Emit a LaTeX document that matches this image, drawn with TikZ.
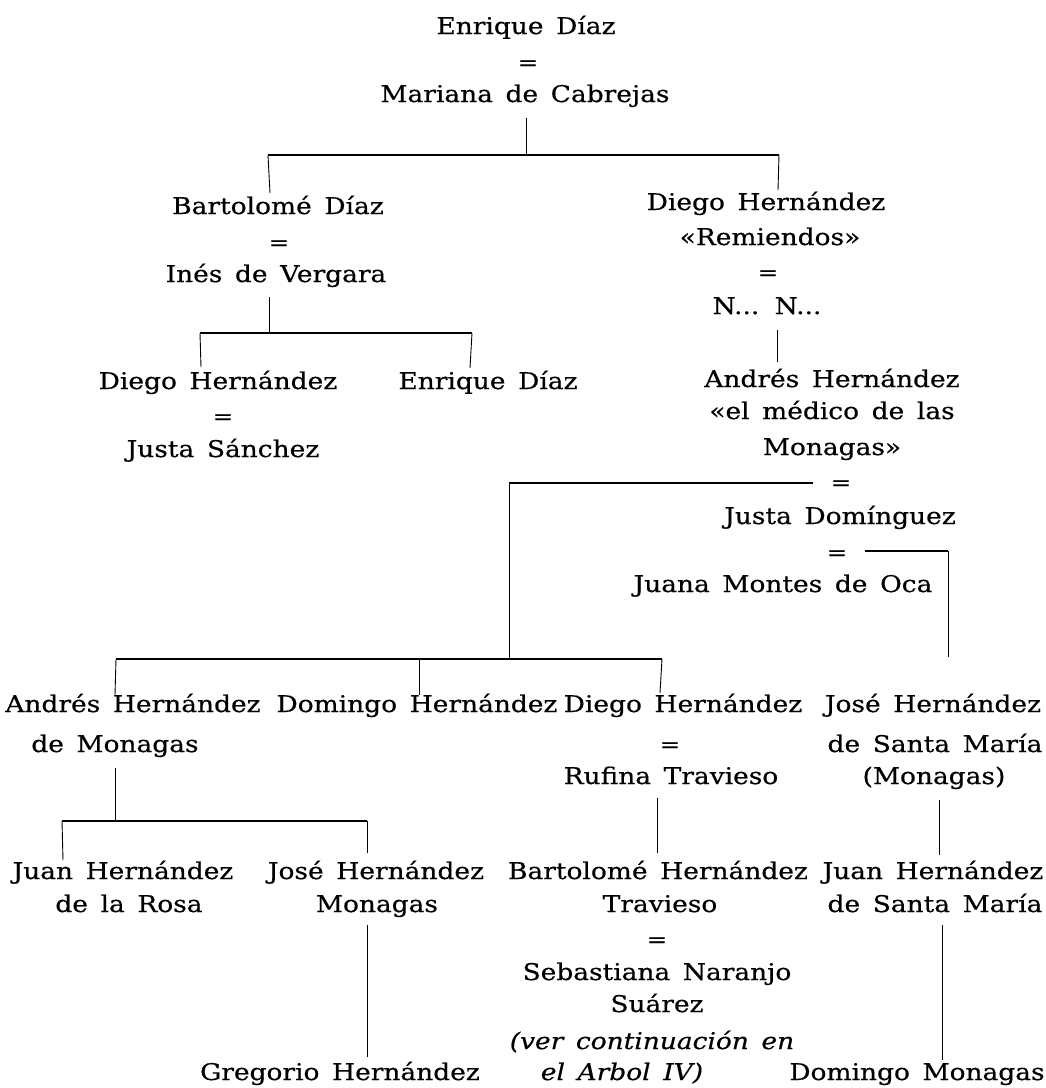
\documentclass[tikz,border=0pt]{standalone}
\usepackage{fontspec}
\setmainfont{DejaVu Serif}[FakeStretch=1.15, WordSpace=1.5, FakeBold=0.5]
\begin{document}
\begin{tikzpicture}[x=1pt,y=-1pt,
  nm/.style={anchor=base,inner sep=0pt,font=\fontsize{23}{33}\selectfont},
  it/.style={nm,font=\fontsize{23}{33}\selectfont\itshape},
  eq/.style={anchor=center,inner sep=0pt,font=\fontsize{21}{33}\selectfont},
  vl/.style={line width=0.9pt},
  hl/.style={line width=1.5pt}]
\useasboundingbox (0,0) rectangle (1046,1088);
% generation 1
\node[nm] (g1a) at (526,34) {Enrique Díaz};
\node[eq] (g1e) at (528,65) {=};
\node[nm] (g1b) at (525,102) {Mariana de Cabrejas};
% generation 2
\node[nm] (bd) at (278,214) {Bartolomé Díaz};
\node[eq] (bde) at (279,245) {=};
\node[nm] (iv) at (276,282) {Inés de Vergara};
\node[nm] (dh1) at (766,210) {Diego Hernández};
\node[nm] (dh2) at (770,245) {«Remiendos»};
\node[eq] (dhe) at (768,275) {=};
\node[nm] (nn) at (767,314) {N... N...};
% generation 3
\node[nm] (dhs) at (218,389) {Diego Hernández};
\node[eq] (dhse) at (223,419) {=};
\node[nm] (js) at (223,457) {Justa Sánchez};
\node[nm] (ed2) at (488,389) {Enrique Díaz};
\node[nm] (ah1) at (832,387) {Andrés Hernández};
\node[nm] (ah2) at (832,419) {«el médico de las};
\node[nm] (ah3) at (832,455) {Monagas»};
\node[eq] (ahe1) at (841,485) {=};
\node[nm] (jd) at (840,524) {Justa Domínguez};
\node[eq] (ahe2) at (837,555) {=};
\node[nm] (jm) at (783,592) {Juana Montes de Oca};
% generation 4
\node[nm] (ahm1) at (133,712) {Andrés Hernández};
\node[nm] (ahm2) at (115,752) {de Monagas};
\node[nm] (doh) at (417,712) {Domingo Hernández};
\node[nm] (dgh) at (683,712) {Diego Hernández};
\node[eq] (dghe) at (670,747) {=};
\node[nm] (rt) at (671,784) {Rufina Travieso};
\node[nm] (jhs1) at (933,712) {José Hernández};
\node[nm] (jhs2) at (935,752) {de Santa María};
\node[nm] (jhs3) at (934,784) {(Monagas)};
% generation 5
\node[nm] (jhr1) at (123,879) {Juan Hernández};
\node[nm] (jhr2) at (129,912) {de la Rosa};
\node[nm] (jhm1) at (376,879) {José Hernández};
\node[nm] (jhm2) at (377,912) {Monagas};
\node[nm] (bht1) at (658,879) {Bartolomé Hernández};
\node[nm] (bht2) at (660,912) {Travieso};
\node[eq] (bhte) at (657,942) {=};
\node[nm] (sn1) at (657,980) {Sebastiana Naranjo};
\node[nm] (sn2) at (657,1012) {Suárez};
\node[it] (vc1) at (652,1049) {(ver continuación en};
\node[it] (vc2) at (622,1080) {el Arbol IV)};
\node[nm] (jsm1) at (933,879) {Juan Hernández};
\node[nm] (jsm2) at (935,912) {de Santa María};
% generation 6
\node[nm] (gh) at (340,1080) {Gregorio Hernández};
\node[nm] (dm) at (917,1080) {Domingo Monagas};
% junction coordinates
\coordinate (c1t) at (526,118);
\coordinate (c1) at (526,155);
\coordinate (c1l) at (268,155);
\coordinate (c1r) at (779,155);
\coordinate (c1lb) at (270,193);
\coordinate (c1rb) at (778,190);
\coordinate (c2t) at (269,297);
\coordinate (c2) at (269,333);
\coordinate (c2l) at (200,333);
\coordinate (c2r) at (472,333);
\coordinate (c2lb) at (201,367);
\coordinate (c2rb) at (470,368);
\coordinate (c3t) at (777,330);
\coordinate (c3b) at (777,362);
\coordinate (m1r) at (813,483);
\coordinate (m1l) at (509,483);
\coordinate (m1b) at (509,659);
\coordinate (c4l) at (116,659);
\coordinate (c4r) at (662,659);
\coordinate (c4m) at (419,659);
\coordinate (c4a) at (115,695);
\coordinate (c4b) at (419,695);
\coordinate (c4c) at (660,693);
\coordinate (m2l) at (865,551);
\coordinate (m2r) at (948,551);
\coordinate (m2b) at (948,657);
\coordinate (c5t) at (115,768);
\coordinate (c5) at (115,821);
\coordinate (c5l) at (62,821);
\coordinate (c5r) at (367,821);
\coordinate (c5lb) at (63,860);
\coordinate (c5rb) at (367,853);
\coordinate (c6t) at (657,798);
\coordinate (c6b) at (657,853);
\coordinate (c7t) at (939,800);
\coordinate (c7b) at (939,855);
\coordinate (c8t) at (367,925);
\coordinate (c8b) at (367,1057);
\coordinate (c9t) at (942,925);
\coordinate (c9b) at (942,1060);
% connectors
\draw[vl] (c1t) -- (c1);
\draw[hl] (c1l) -- (c1r);
\draw[vl] (c1l) -- (c1lb);
\draw[vl] (c1r) -- (c1rb);
\draw[vl] (c2t) -- (c2);
\draw[hl] (c2l) -- (c2r);
\draw[vl] (c2l) -- (c2lb);
\draw[vl] (c2r) -- (c2rb);
\draw[vl] (c3t) -- (c3b);
\draw[hl] (m1r) -- (m1l);
\draw[vl] (m1l) -- (m1b);
\draw[hl] (c4l) -- (c4r);
\draw[vl] (c4l) -- (c4a);
\draw[vl] (c4m) -- (c4b);
\draw[vl] (c4r) -- (c4c);
\draw[hl] (m2l) -- (m2r);
\draw[vl] (m2r) -- (m2b);
\draw[vl] (c5t) -- (c5);
\draw[hl] (c5l) -- (c5r);
\draw[vl] (c5l) -- (c5lb);
\draw[vl] (c5r) -- (c5rb);
\draw[vl] (c6t) -- (c6b);
\draw[vl] (c7t) -- (c7b);
\draw[vl] (c8t) -- (c8b);
\draw[vl] (c9t) -- (c9b);
\end{tikzpicture}
\end{document}
